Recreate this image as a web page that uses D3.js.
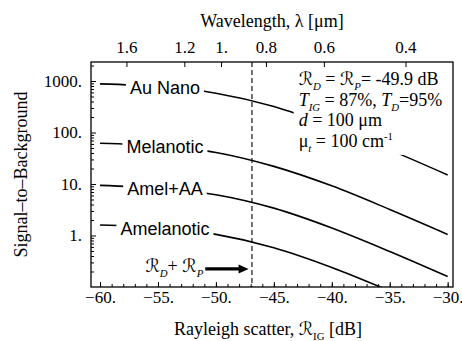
<!DOCTYPE html>
<html>
<head>
<meta charset="utf-8">
<script src="https://cdn.jsdelivr.net/npm/d3@7"></script>
<style>
  body { margin: 0; background: #fff; }
  .serif { font-family: "Liberation Serif", "Times New Roman", serif; }
  .sans { font-family: "Liberation Sans", Arial, sans-serif; }
  .script { font-family: "DejaVu Serif", "DejaVu Sans", serif; font-style: italic; }
</style>
</head>
<body>
<script>
const width = 462;
const height = 341;

// data
const rayleighDb = [-60, -55, -50, -45, -40, -35, -30];
const seriesNames = ["Au Nano", "Melanotic", "Amel+AA", "Amelanotic"];
const auNano = [880, 780, 580, 320, 130, 46, 15];
const melanotic = [62, 55, 41, 22, 9.2, 3.2, 1.05];
const amelAA = [9.4, 8.3, 6.2, 3.4, 1.4, 0.49, 0.16];
const amelanotic = [1.6, 1.42, 1.05, 0.58, 0.24, 0.084, null];

const xMajorTicks = [-60, -55, -50, -45, -40, -35, -30];
const xMinorTicks = d3.range(-60, -29, 1);
const yMajorTicks = [1, 10, 100, 1000];
const wavelengthTicks = [1.6, 1.2, 1, 0.8, 0.6, 0.4];

const detectorDb = -49.9;              // R_D = R_P
const sumDb = detectorDb + 10 * Math.log10(2); // R_D + R_P
const labelDb = -54.4;                 // where curve labels sit
const arrowFrom = -50.92, arrowTo = -47.18, arrowLevel = 0.224;
const noteDb = -42.86;

// wavelength <-> rayleigh dB (lambda^-4)
const dbAt04 = -33.64;
const dbToWavelength = (db) => 0.4 / Math.pow(10, (db - dbAt04) / 40);

const plot = { left: 91, right: 453, top: 62, bottom: 287 };

const svg = d3.select("body").append("svg")
  .attr("width", width)
  .attr("height", height);

const x = d3.scaleLinear().domain([-60.78, -29.54]).range([plot.left, plot.right]);
const y = d3.scaleLog().domain([0.1, 2340]).range([plot.bottom, plot.top]);
const xl = d3.scaleLog()
  .domain(x.domain().map(dbToWavelength))
  .range(x.range());

const fmt = (v) => (Number.isInteger(v) ? v + "." : String(v)).replace("-", "\u2212");

svg.append("clipPath").attr("id", "frame-clip")
  .append("rect")
  .attr("x", plot.left).attr("y", plot.top)
  .attr("width", plot.right - plot.left).attr("height", plot.bottom - plot.top);

// curves
const series = [auNano, melanotic, amelAA, amelanotic].map((vals, i) => ({
  name: seriesNames[i],
  points: rayleighDb.map((d, j) => ({ db: d, v: vals[j] })).filter((p) => p.v != null)
}));

const line = d3.line()
  .x((d) => x(d.db))
  .y((d) => y(d.v))
  .curve(d3.curveMonotoneX);

svg.append("g").attr("clip-path", "url(#frame-clip)")
  .selectAll("path")
  .data(series)
  .join("path")
  .attr("d", (d) => line(d.points))
  .attr("fill", "none")
  .attr("stroke", "#000")
  .attr("stroke-width", 1.6);

// dashed line at R_D + R_P
svg.append("line")
  .attr("x1", x(sumDb)).attr("x2", x(sumDb))
  .attr("y1", plot.top).attr("y2", plot.bottom)
  .attr("stroke", "#000")
  .attr("stroke-width", 1.1)
  .attr("stroke-dasharray", "5,3");

// curve labels with white background
const valueAt = (pts, db) => {
  const i = d3.bisector((p) => p.db).right(pts, db) - 1;
  const a = pts[i], b = pts[i + 1];
  const t = (db - a.db) / (b.db - a.db);
  return Math.pow(10, Math.log10(a.v) + t * (Math.log10(b.v) - Math.log10(a.v)));
};

const labels = svg.append("g").selectAll("g")
  .data(series)
  .join("g")
  .attr("transform", (d) => `translate(${x(labelDb)},${y(valueAt(d.points, labelDb))})`);

labels.append("text")
  .attr("class", "sans")
  .attr("font-size", 18)
  .attr("text-anchor", "middle")
  .attr("dy", "0.36em")
  .text((d) => d.name);

const backdrop = (g, padX, padY) => {
  const bb = g.select("text").node().getBBox();
  g.insert("rect", "text")
    .attr("x", bb.x - padX).attr("y", bb.y - padY)
    .attr("width", bb.width + 2 * padX).attr("height", bb.height + 2 * padY)
    .attr("fill", "#fff");
};
labels.each(function () { backdrop(d3.select(this), 4, 0); });

// axes
const styleAxis = (g) => {
  g.select(".domain").remove();
  g.selectAll("line").attr("stroke", "#000");
  g.selectAll("text").attr("class", "serif").attr("font-size", 17).attr("fill", "#000");
  g.attr("font-family", null).attr("font-size", null);
};

svg.append("g")
  .attr("transform", `translate(0,${plot.bottom})`)
  .call(d3.axisBottom(x).tickValues(xMinorTicks).tickSize(-3).tickFormat(""))
  .call(styleAxis);
svg.append("g")
  .attr("transform", `translate(0,${plot.bottom})`)
  .call(d3.axisBottom(x).tickValues(xMajorTicks).tickSize(-5).tickPadding(4).tickFormat(fmt))
  .call(styleAxis);

const yMinorTicks = [];
[-1, 0, 1, 2, 3].forEach((e) => d3.range(2, 10).forEach((k) => {
  const v = k * Math.pow(10, e);
  if (v < y.domain()[1]) yMinorTicks.push(v);
}));
svg.append("g")
  .attr("transform", `translate(${plot.left},0)`)
  .call(d3.axisLeft(y).tickValues(yMinorTicks).tickSize(-3).tickFormat(""))
  .call(styleAxis);
svg.append("g")
  .attr("transform", `translate(${plot.left},0)`)
  .call(d3.axisLeft(y).tickValues(yMajorTicks).tickSize(-5).tickPadding(9).tickFormat(fmt))
  .call(styleAxis);

svg.append("g")
  .attr("transform", `translate(0,${plot.top})`)
  .call(d3.axisTop(xl).tickValues(wavelengthTicks).tickSize(-5).tickPadding(9).tickFormat(fmt))
  .call(styleAxis);

// frame
svg.append("rect")
  .attr("x", plot.left).attr("y", plot.top)
  .attr("width", plot.right - plot.left).attr("height", plot.bottom - plot.top)
  .attr("fill", "none")
  .attr("stroke", "#000")
  .attr("stroke-width", 1.3);

// rich text helper: segments [text, kind] kind: "", "i", "sub", "isub", "sup", "R"
const rich = (sel, segs, size) => {
  let shift = 0;
  segs.forEach(([t, kind]) => {
    const ts = sel.append("tspan").text(t);
    let target = 0;
    if (kind === "sub" || kind === "isub") target = size * 0.3;
    if (kind === "sup") target = -size * 0.35;
    ts.attr("dy", target - shift);
    shift = target;
    if (kind === "sub" || kind === "isub" || kind === "sup") ts.attr("font-size", size * 0.6);
    if (kind === "i" || kind === "isub") ts.attr("font-style", "italic");
    if (kind === "R") ts.attr("class", "script");
  });
};

// titles
svg.append("text")
  .attr("class", "serif").attr("font-size", 18)
  .attr("x", (plot.left + plot.right) / 2).attr("y", 27)
  .attr("text-anchor", "middle")
  .text("Wavelength, \u03bb [\u03bcm]");

svg.append("text")
  .attr("class", "serif").attr("font-size", 18)
  .attr("transform", `translate(27,${(plot.top + plot.bottom) / 2}) rotate(-90)`)
  .attr("text-anchor", "middle")
  .text("Signal\u2013to\u2013Background");

const xTitle = svg.append("text")
  .attr("class", "serif").attr("font-size", 18)
  .attr("x", (plot.left + plot.right) / 2 - 4).attr("y", 335)
  .attr("text-anchor", "middle");
rich(xTitle, [["Rayleigh scatter, ", ""], ["\u211b", "R"], ["IG", "sub"], [" [dB]", ""]], 18);

// parameter note on a white panel
const noteLines = [
  [["\u211b", "R"], ["D", "isub"], [" = ", ""], ["\u211b", "R"], ["P", "isub"], ["= -49.9 dB", ""]],
  [["T", "i"], ["IG", "isub"], [" = 87%, ", ""], ["T", "i"], ["D", "isub"], ["=95%", ""]],
  [["d", "i"], [" = 100 \u03bcm", ""]],
  [["\u03bc", ""], ["t", "isub"], [" = 100 cm", ""], ["-1", "sup"]]
];
const note = svg.append("g");
const noteText = note.append("text")
  .attr("class", "serif").attr("font-size", 18);
noteLines.forEach((segs, i) => {
  const row = noteText.append("tspan").attr("x", x(noteDb)).attr("y", 85 + i * 20.5);
  rich(row, segs, 18);
});
backdrop(note, 5, 1);

// R_D + R_P arrow
svg.append("line")
  .attr("x1", x(arrowFrom)).attr("x2", x(arrowTo) - 8)
  .attr("y1", y(arrowLevel)).attr("y2", y(arrowLevel))
  .attr("stroke", "#000").attr("stroke-width", 3.2);
svg.append("path")
  .attr("d", `M${x(arrowTo)},${y(arrowLevel)} l-10,-4.5 l0,9 z`)
  .attr("fill", "#000");

const arrowText = svg.append("text")
  .attr("class", "serif").attr("font-size", 18)
  .attr("x", x(arrowFrom) - 2).attr("y", y(arrowLevel) + 3)
  .attr("text-anchor", "end");
rich(arrowText, [["\u211b", "R"], ["D", "isub"], ["+ ", ""], ["\u211b", "R"], ["P", "isub"]], 18);
</script>
</body>
</html>
